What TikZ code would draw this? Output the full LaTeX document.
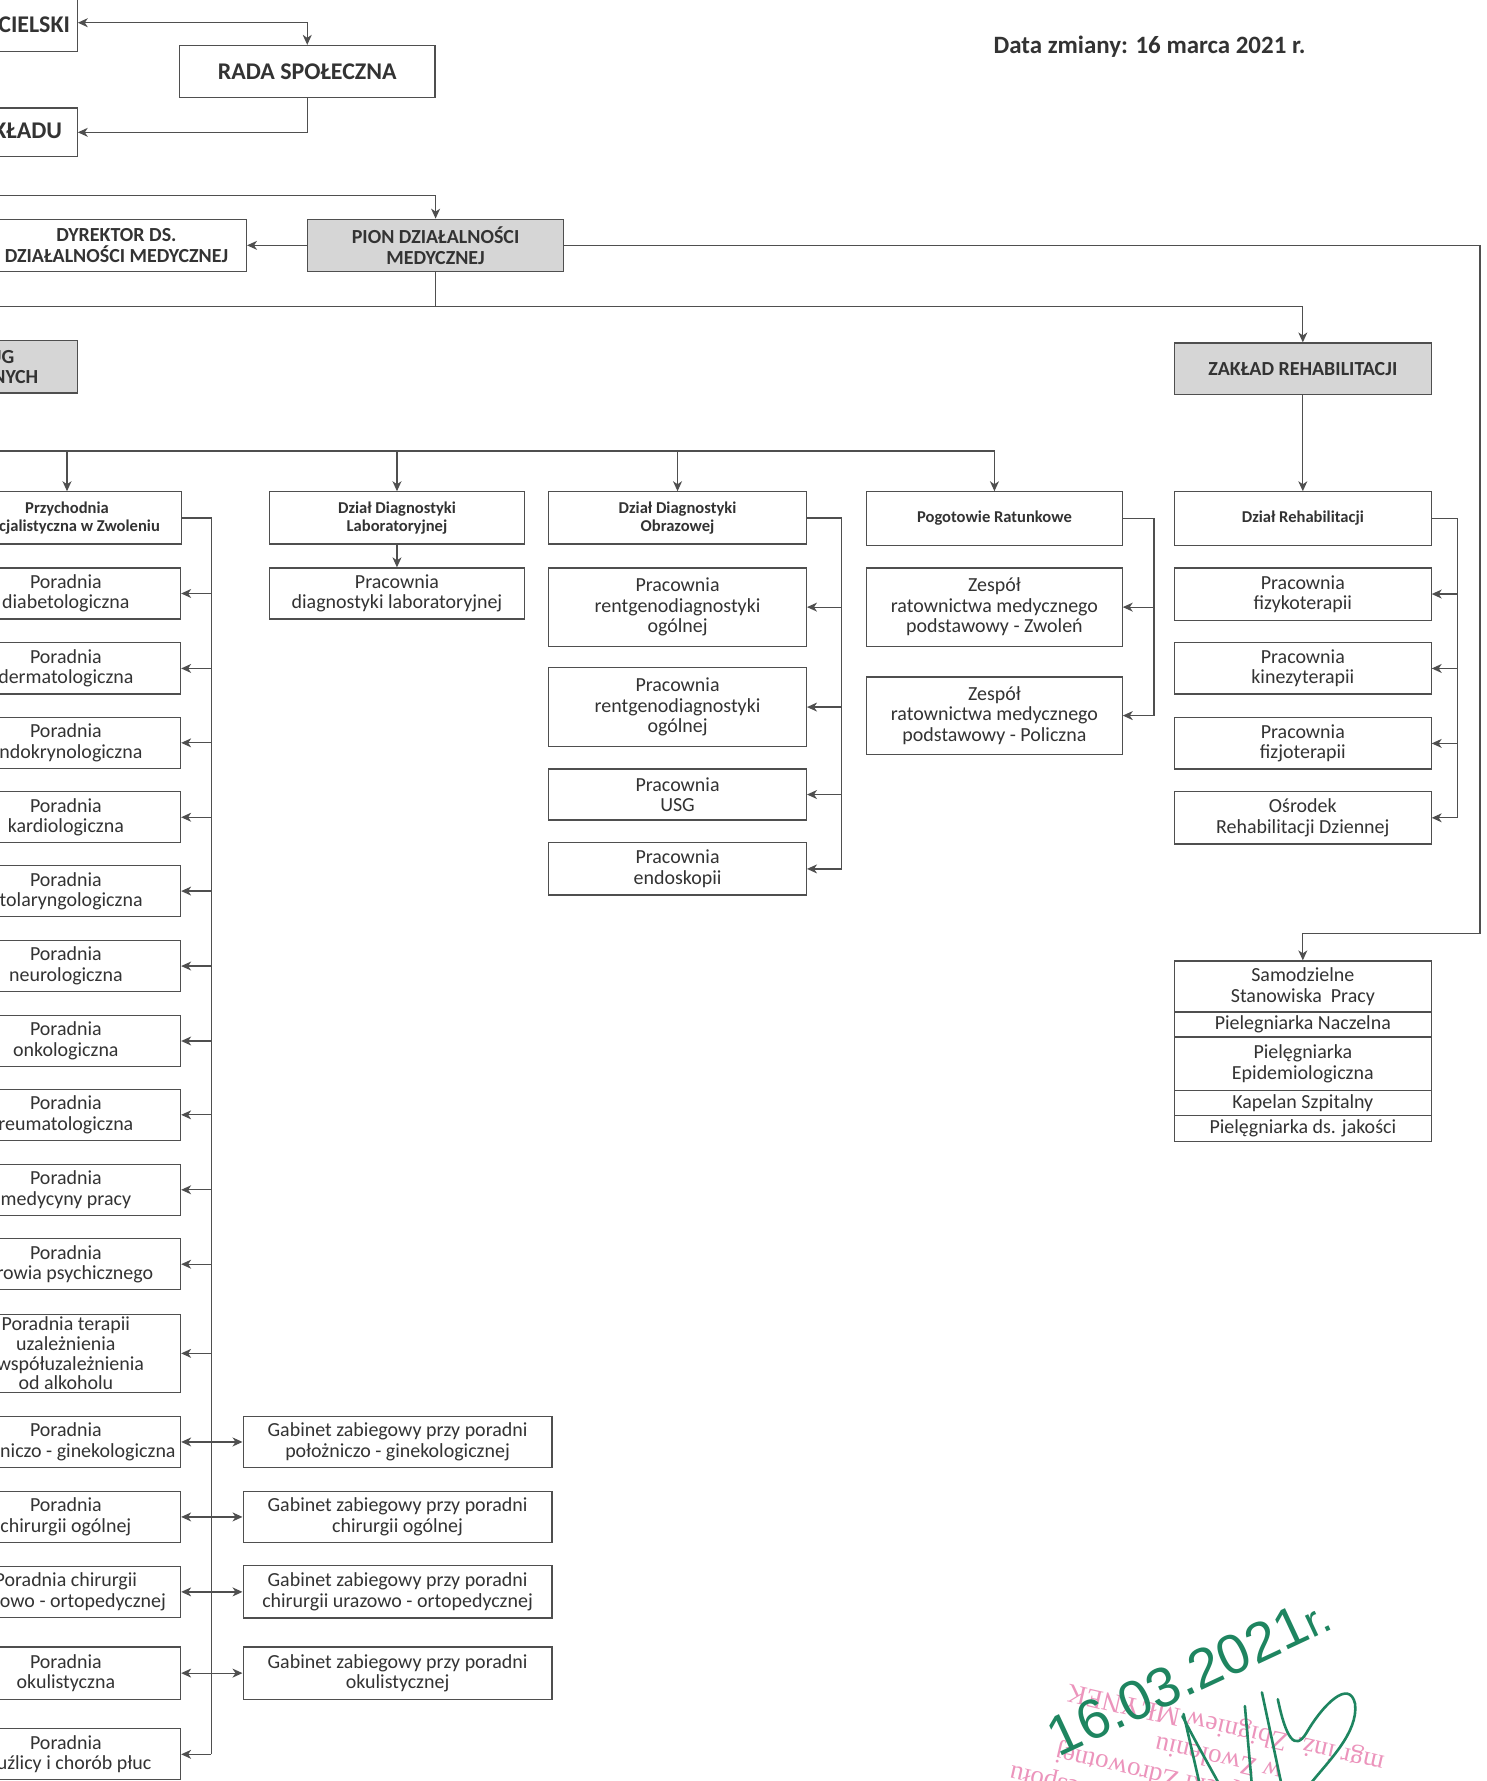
\documentclass[tikz,border=0pt]{standalone}
\usepackage{fontspec}
\setmainfont{Carlito}
\newfontfamily\stampfont{Liberation Serif}
\newfontfamily\handfont{Liberation Sans}
\usetikzlibrary{arrows.meta,calc}
\definecolor{linec}{HTML}{4F4F4F}
\definecolor{txt}{HTML}{333333}
\definecolor{graybox}{HTML}{D6D6D6}
\definecolor{handgreen}{HTML}{1E8560}
\definecolor{stamppink}{HTML}{EC94BC}
\begin{document}
\begin{tikzpicture}[x=0.02cm,y=-0.02cm,
  ln/.style={draw=linec, line width=0.6pt},
  arr/.style={ln, -{Stealth[length=5pt,width=4.5pt,inset=1.5pt]}},
  arrb/.style={ln, {Stealth[length=5pt,width=4.5pt,inset=1.5pt]}-{Stealth[length=5pt,width=4.5pt,inset=1.5pt]}},
  box/.style={draw=linec, line width=0.6pt, fill=white, text=txt, align=center, inner sep=1pt,
              font=\fontsize{10}{10.3}\selectfont},
  hbox/.style={box, font=\fontsize{8.3}{9.3}\selectfont\bfseries},
  mbox/.style={box, font=\fontsize{10}{10.6}\selectfont\bfseries},
  gbox/.style={mbox, fill=graybox},
  bigt/.style={font=\fontsize{12}{13}\selectfont\bfseries, text=txt, inner sep=0pt},
  midt/.style={font=\fontsize{10}{10.6}\selectfont\bfseries, text=txt, inner sep=0pt},
  handtxt/.style={font=\handfont\fontsize{28}{30}\selectfont, text=handgreen, inner sep=0pt},
  hand/.style={draw=handgreen, line width=1.3pt, line cap=round, line join=round},
  stamp/.style={font=\stampfont\fontsize{13.5}{15.5}\selectfont, text=stamppink, align=center, inner sep=0pt}
]
\useasboundingbox (0,0) rectangle (1309,1568);
\clip (0,0) rectangle (1309,1568);
\fill[white] (0,0) rectangle (1309,1568);

% ---------- date ----------
\node[font=\fontsize{12.5}{14}\selectfont\bfseries, text=txt] (date) at (1012,41) {Data zmiany: 16 marca 2021 r.};

% ---------- top part ----------
\node[box, minimum width=2.56cm, minimum height=1cm] (organ) at (4,20) {};
\node[bigt, anchor=east] (organt) at (62,20) {ORGAN ZAŁOŻYCIELSKI};
\node[box, font=\fontsize{12}{13}\selectfont\bfseries, minimum width=4.5cm, minimum height=0.92cm] (rada) at (270.5,63) {RADA SPOŁECZNA};
\node[box, minimum width=2.56cm, minimum height=0.86cm] (dyrz) at (4,116.5) {};
\node[bigt, anchor=east] (dyrzt) at (55,115) {DYREKTOR ZAKŁADU};

\draw[arrb] (organ.east) -| (rada.north);
\draw[arr] (rada.south) |- (dyrz.east);

\node[mbox, minimum width=4.58cm, minimum height=0.92cm] (dyrmed) at (102.5,216) {DYREKTOR DS.\\DZIAŁALNOŚCI MEDYCZNEJ};
\node[gbox, minimum width=4.5cm, minimum height=0.92cm] (pion) at (383.5,216) {PION DZIAŁALNOŚCI\\MEDYCZNEJ};

\coordinate (lt1) at (-20,172);
\draw[arr] (lt1) -| (pion.north);
\draw[arr] (pion.west) -- (dyrmed.east);

\node[gbox, minimum width=2.56cm, minimum height=0.92cm] (uslug) at (4,323) {};
\node[midt, anchor=east] (uslug1) at (13,314) {PION USŁUG};
\node[midt, anchor=east] (uslug2) at (34,332) {TECHNICZNYCH};

\node[gbox, minimum width=4.52cm, minimum height=0.9cm] (zaklad) at (1147,324.5) {ZAKŁAD REHABILITACJI};

\coordinate (lt2) at (-20,270);
\draw[ln] (pion.south) -- (pion.south |- lt2);
\draw[arr] (lt2) -| (zaklad.north);

% ---------- headers row ----------
\node[hbox, minimum width=4.04cm, minimum height=0.92cm] (prz) at (59,456) {Przychodnia\\Specjalistyczna w Zwoleniu};
\node[hbox, minimum width=4.5cm, minimum height=0.92cm] (dlab) at (349.5,456) {Dział Diagnostyki\\Laboratoryjnej};
\node[hbox, minimum width=4.54cm, minimum height=0.92cm] (dobr) at (596.5,456) {Dział Diagnostyki\\Obrazowej};
\node[hbox, minimum width=4.5cm, minimum height=0.94cm] (pogot) at (875.5,456.5) {Pogotowie Ratunkowe};
\node[hbox, minimum width=4.52cm, minimum height=0.94cm] (dreh) at (1147,456.5) {Dział Rehabilitacji};

\coordinate (lt3) at (-20,397);
\draw[arr] (lt3) -| (pogot.north);
\foreach \n in {prz,dlab,dobr} \draw[arr] (\n.north |- lt3) -- (\n.north);
\draw[arr] (zaklad.south) -- (dreh.north);

% ---------- column 1 ----------
\node[box, minimum width=4.04cm, minimum height=0.9cm] (p2) at (58,522.5) {Poradnia\\diabetologiczna};
\node[box, minimum width=4.04cm, minimum height=0.9cm] (p3) at (58,588.5) {Poradnia\\dermatologiczna};
\node[box, minimum width=4.04cm, minimum height=0.9cm] (p4) at (58,654) {Poradnia\\endokrynologiczna};
\node[box, minimum width=4.04cm, minimum height=0.9cm] (p5) at (58,719.5) {Poradnia\\kardiologiczna};
\node[box, minimum width=4.04cm, minimum height=0.9cm] (p6) at (58,784.5) {Poradnia\\otolaryngologiczna};
\node[box, minimum width=4.04cm, minimum height=0.9cm] (p7) at (58,850.5) {Poradnia\\neurologiczna};
\node[box, minimum width=4.04cm, minimum height=0.9cm] (p8) at (58,916.5) {Poradnia\\onkologiczna};
\node[box, minimum width=4.04cm, minimum height=0.9cm] (p9) at (58,981.5) {Poradnia\\reumatologiczna};
\node[box, minimum width=4.04cm, minimum height=0.9cm] (p10) at (58,1047.5) {Poradnia\\medycyny pracy};
\node[box, minimum width=4.04cm, minimum height=0.9cm] (p11) at (58,1113) {Poradnia\\zdrowia psychicznego};
\node[box, inner sep=0pt, font=\fontsize{10}{9.9}\selectfont, minimum width=4.04cm, minimum height=1.38cm] (p12) at (58,1191.5) {Poradnia terapii\\uzależnienia\\i współuzależnienia\\od alkoholu};
\node[box, minimum width=4.04cm, minimum height=0.9cm] (p13) at (58,1269.5) {Poradnia\\położniczo - ginekologiczna};
\node[box, minimum width=4.04cm, minimum height=0.9cm] (p14) at (58,1335.5) {Poradnia\\chirurgii ogólnej};
\node[box, minimum width=4.04cm, minimum height=0.9cm] (p15) at (58,1401.5) {Poradnia chirurgii\\urazowo - ortopedycznej};
\node[box, minimum width=4.04cm, minimum height=0.92cm] (p16) at (58,1473) {Poradnia\\okulistyczna};
\node[box, minimum width=4.04cm, minimum height=0.9cm] (p17) at (58,1544.5) {Poradnia\\gruźlicy i chorób płuc};

\node[box, minimum width=5.44cm, minimum height=0.9cm] (g13) at (350,1269.5) {Gabinet zabiegowy przy poradni\\położniczo - ginekologicznej};
\node[box, minimum width=5.44cm, minimum height=0.9cm] (g14) at (350,1335.5) {Gabinet zabiegowy przy poradni\\chirurgii ogólnej};
\node[box, minimum width=5.44cm, minimum height=0.92cm] (g15) at (350,1401.5) {Gabinet zabiegowy przy poradni\\chirurgii urazowo - ortopedycznej};
\node[box, minimum width=5.44cm, minimum height=0.92cm] (g16) at (350,1473) {Gabinet zabiegowy przy poradni\\okulistycznej};

\coordinate (c1) at (186,0);
\draw[ln] (prz.east) -| (c1 |- p17.east);
\foreach \n in {p2,p3,p4,p5,p6,p7,p8,p9,p10,p11,p12,p17} \draw[arr] (c1 |- \n.east) -- (\n.east);
\foreach \n in {13,14,15,16} \draw[arrb] (p\n.east) -- (g\n.west);

% ---------- column 2 ----------
\node[box, minimum width=4.5cm, minimum height=0.9cm] (plab) at (349.5,522.5) {Pracownia\\diagnostyki laboratoryjnej};
\draw[arr] (dlab.south) -- (plab.north);

% ---------- column 3 ----------
\node[box, minimum width=4.54cm, minimum height=1.38cm] (o1) at (596.5,534.5) {Pracownia\\rentgenodiagnostyki\\ogólnej};
\node[box, minimum width=4.54cm, minimum height=1.38cm] (o2) at (596.5,622.5) {Pracownia\\rentgenodiagnostyki\\ogólnej};
\node[box, minimum width=4.54cm, minimum height=0.9cm] (o3) at (596.5,699.5) {Pracownia\\USG};
\node[box, minimum width=4.54cm, minimum height=0.92cm] (o4) at (596.5,765) {Pracownia\\endoskopii};
\coordinate (c3) at (741,0);
\draw[ln] (dobr.east) -| (c3 |- o4.east);
\foreach \n in {o1,o2,o3,o4} \draw[arr] (c3 |- \n.east) -- (\n.east);

% ---------- column 4 ----------
\node[box, minimum width=4.5cm, minimum height=1.38cm] (z1) at (875.5,534.5) {Zespół\\ratownictwa medycznego\\podstawowy - Zwoleń};
\node[box, minimum width=4.5cm, minimum height=1.36cm] (z2) at (875.5,630) {Zespół\\ratownictwa medycznego\\podstawowy - Policzna};
\coordinate (c4) at (1016,0);
\draw[ln] (pogot.east) -| (c4 |- z2.east);
\foreach \n in {z1,z2} \draw[arr] (c4 |- \n.east) -- (\n.east);

% ---------- column 5 ----------
\node[box, minimum width=4.52cm, minimum height=0.92cm] (r1) at (1147,523) {Pracownia\\fizykoterapii};
\node[box, minimum width=4.52cm, minimum height=0.9cm] (r2) at (1147,588.5) {Pracownia\\kinezyterapii};
\node[box, minimum width=4.52cm, minimum height=0.9cm] (r3) at (1147,654.5) {Pracownia\\fizjoterapii};
\node[box, minimum width=4.52cm, minimum height=0.92cm] (r4) at (1147,720) {Ośrodek\\Rehabilitacji Dziennej};
\coordinate (c5) at (1283,0);
\draw[ln] (dreh.east) -| (c5 |- r4.east);
\foreach \n in {r1,r2,r3,r4} \draw[arr] (c5 |- \n.east) -- (\n.east);

% ---------- independent posts ----------
\node[box, minimum width=4.52cm, minimum height=0.9cm] (s1) at (1147,868.5) {Samodzielne\\Stanowiska~ Pracy};
\node[box, minimum width=4.52cm, minimum height=0.44cm] (s2) at (1147,902) {Pielegniarka Naczelna};
\node[box, minimum width=4.52cm, minimum height=0.94cm] (s3) at (1147,936.5) {Pielęgniarka\\Epidemiologiczna};
\node[box, minimum width=4.52cm, minimum height=0.44cm] (s4) at (1147,971) {Kapelan Szpitalny};
\node[box, minimum width=4.52cm, minimum height=0.46cm] (s5) at (1147,993.5) {Pielęgniarka ds. jakości};

\coordinate (rt1) at (1303,216);
\coordinate (rt2) at (1303,822);
\draw[arr] (pion.east) -- (rt1) -- (rt2) -| (s1.north);

% ---------- stamp and signature ----------
\node[stamp, rotate=167] (stampblk) at (1070,1560) {Samodzielnego Publicznego Zespołu\\Zakładów Opieki Zdrowotnej\\w Zwoleniu\\mgr inż. Zbigniew MŁYNEK};
\node[handtxt, rotate=25, anchor=base west] (hdate) at (932,1547) {16.03.2021{\fontsize{22}{22}\selectfont r.}};
\draw[hand] (1042,1509) -- (1056,1570);
\draw[hand] (1041,1511) .. controls (1052,1532) .. (1073,1570);
\draw[hand] (1096,1502) -- (1102,1570);
\draw[hand] (1111,1490) -- (1128,1570);
\draw[hand] (1125,1496) .. controls (1132,1530) and (1140,1542) .. (1150,1526)
  .. controls (1165,1500) and (1188,1478) .. (1193,1500)
  .. controls (1196,1525) and (1170,1550) .. (1154,1570);
\end{tikzpicture}
\end{document}
